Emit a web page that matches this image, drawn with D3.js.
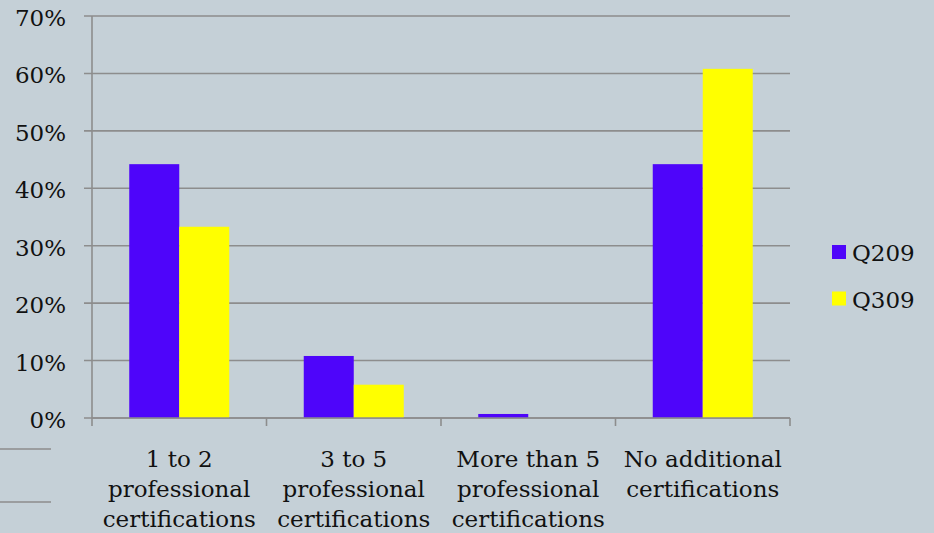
<!DOCTYPE html>
<html><head><meta charset="utf-8">
<script src="https://cdn.jsdelivr.net/npm/d3@7"></script>
<style>
html,body{margin:0;padding:0;background:#C5D0D7;}
svg{display:block;}
text{font-family:"DejaVu Serif",Georgia,serif;fill:#111;}
</style></head>
<body>
<svg id="chart" width="934" height="533"></svg>
<script>
const categories = ["1 to 2 professional certifications","3 to 5 professional certifications","More than 5 professional certifications","No additional certifications"];
const seriesNames = ["Q209","Q309"];
const q209 = [0.442, 0.108, 0.007, 0.442];
const q309 = [0.333, 0.058, 0, 0.608];
const yTicks = [0,0.1,0.2,0.3,0.4,0.5,0.6,0.7];
const colors = ["#4E05FA","#FFFF00"];

const svg = d3.select("#chart");
const m = {left:92, right:144, top:16, bottom:115};
const W = 934, H = 533;
const x = d3.scaleBand().domain(categories).range([m.left, W-m.right]).paddingInner(0).paddingOuter(0);
const x1 = d3.scaleBand().domain(seriesNames).range([0, x.bandwidth()]).paddingInner(0).paddingOuter(0.745);
const y = d3.scaleLinear().domain([0,0.7]).range([H-m.bottom, m.top]);

const gridColor = "#8d8d8d";
svg.append("g").selectAll("line").data(yTicks).join("line")
  .attr("x1", m.left-8).attr("x2", W-m.right)
  .attr("y1", d=>y(d)).attr("y2", d=>y(d))
  .attr("stroke", gridColor).attr("stroke-width",1.6);
svg.append("line").attr("x1",m.left).attr("x2",m.left).attr("y1",y(0.7)).attr("y2",y(0)+8)
  .attr("stroke",gridColor).attr("stroke-width",1.6);
const bounds = categories.map(c=>x(c)).concat([x(categories[categories.length-1])+x.bandwidth()]);
svg.append("g").selectAll("line").data(bounds.slice(1)).join("line")
  .attr("x1",d=>d).attr("x2",d=>d).attr("y1",y(0)).attr("y2",y(0)+8)
  .attr("stroke",gridColor).attr("stroke-width",1.6);

svg.append("g").selectAll("text").data(yTicks).join("text")
  .attr("x", 66).attr("y", d=>y(d)+10)
  .attr("text-anchor","end").attr("font-size",23)
  .text(d3.format(".0%"));

const data = [q209,q309];
const g = svg.append("g");
data.forEach((vals,si)=>{
  g.selectAll(".s"+si).data(vals).join("rect")
    .attr("x",(d,i)=>x(categories[i])+x1(seriesNames[si]))
    .attr("width",x1.bandwidth())
    .attr("y",d=>y(d)).attr("height",d=>y(0)-y(d))
    .attr("fill",colors[si]);
});
svg.append("line").attr("x1",m.left).attr("x2",W-m.right).attr("y1",y(0)).attr("y2",y(0))
  .attr("stroke",gridColor).attr("stroke-width",1.6);

const labels = svg.append("g").selectAll("text").data(categories).join("text")
  .attr("text-anchor","middle").attr("font-size",23)
  .attr("x", d=>x(d)+x.bandwidth()/2).attr("y", 467);
labels.each(function(d){
  const t = d3.select(this);
  const words = d.split(" ");
  const cx = x(d)+x.bandwidth()/2;
  let lines = [], line = [];
  const tmp = t.append("tspan");
  words.forEach(w=>{
    const trial = line.concat([w]).join(" ");
    tmp.text(trial);
    if (tmp.node().getComputedTextLength() > x.bandwidth()-2 && line.length){
      lines.push(line.join(" ")); line=[w];
    } else line.push(w);
  });
  lines.push(line.join(" "));
  tmp.remove();
  lines.forEach((l,i)=>t.append("tspan").attr("x",cx).attr("y",467+i*30).text(l));
});

const lg = svg.append("g").selectAll("g").data(seriesNames).join("g")
  .attr("transform",(d,i)=>`translate(832,${245+i*46.5})`);
lg.append("rect").attr("width",14).attr("height",14).attr("fill",(d,i)=>colors[i]);
lg.append("text").attr("x",20).attr("y",16).attr("font-size",23).text(d=>d);

svg.append("g").selectAll("line").data([449,502]).join("line")
  .attr("x1",0).attr("x2",51).attr("y1",d=>d).attr("y2",d=>d)
  .attr("stroke",gridColor).attr("stroke-width",1.6);
</script>
</body></html>
